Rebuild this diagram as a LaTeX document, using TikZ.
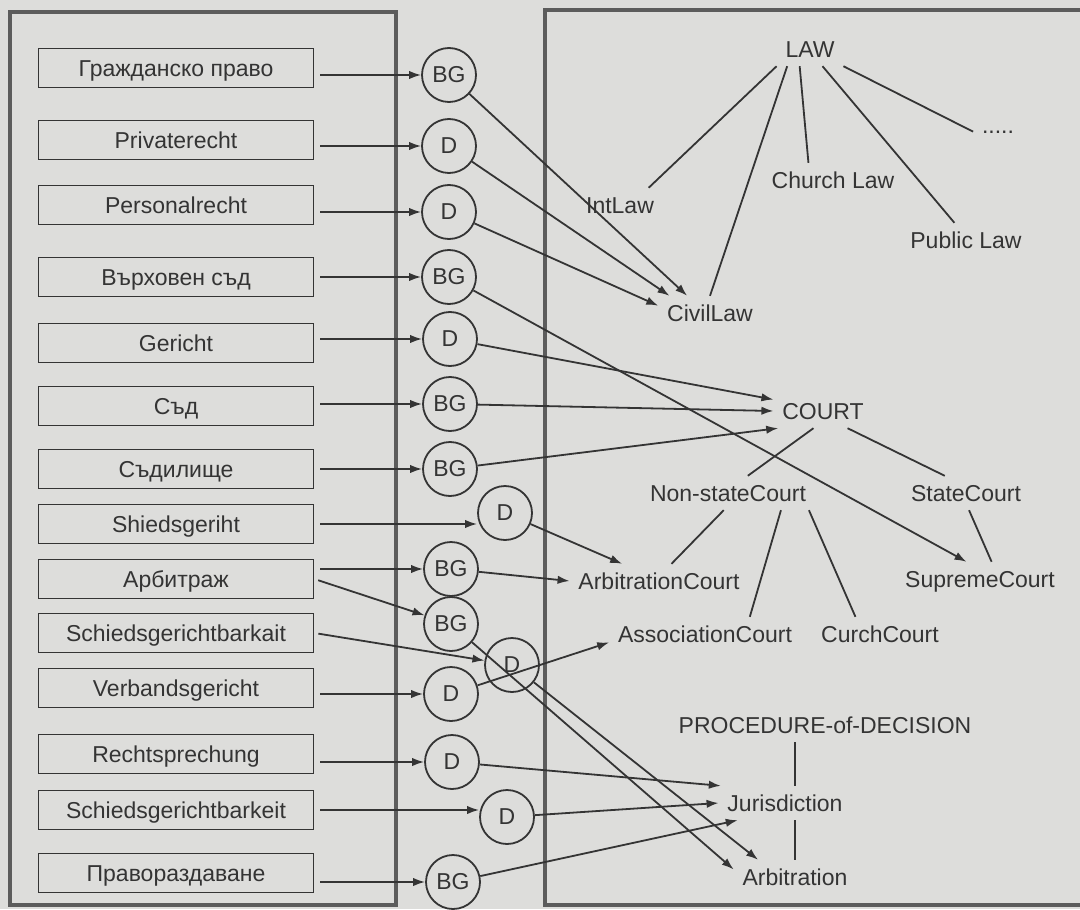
\documentclass[tikz,border=0pt]{standalone}
\usepackage{fontspec}
\setmainfont{Liberation Sans}
\usetikzlibrary{arrows.meta}
\definecolor{paper}{RGB}{221,221,219}
\definecolor{ink}{RGB}{52,52,52}
\definecolor{frame}{RGB}{92,92,92}
\begin{document}
\begin{tikzpicture}[x=.5pt,y=-.5pt,line width=.9pt,ink,>={Latex[length=6pt,width=4.2pt]},
font=\fontsize{11.5}{13}\selectfont,
term/.style={draw,minimum width=137.5pt,minimum height=19.5pt,inner sep=0pt,
  text height=8.3pt,text depth=0pt},
lang/.style={circle,draw,minimum size=27pt,inner sep=0pt},
lbl/.style={inner sep=4pt,text height=8.3pt,text depth=0pt}]
\fill[paper] (0,0) rectangle (1080,909);
\useasboundingbox (0,0) rectangle (1080,909);
\draw[frame,line width=2pt] (10,12) rectangle (396,905);
\draw[frame,line width=2pt] (1085,10) -- (545,10) -- (545,905) -- (1085,905);
% terms
\node[term] (b1) at (176,68) {Гражданско право};
\node[term] (b2) at (176,140) {Privaterecht};
\node[term] (b3) at (176,205) {Personalrecht};
\node[term] (b4) at (176,277) {Върховен съд};
\node[term] (b5) at (176,343) {Gericht};
\node[term] (b6) at (176,406) {Съд};
\node[term] (b7) at (176,469) {Съдилище};
\node[term] (b8) at (176,524) {Shiedsgeriht};
\node[term] (b9) at (176,579) {Арбитраж};
\node[term] (b10) at (176,633) {Schiedsgerichtbarkait};
\node[term] (b11) at (176,688) {Verbandsgericht};
\node[term] (b12) at (176,754) {Rechtsprechung};
\node[term] (b13) at (176,810) {Schiedsgerichtbarkeit};
\node[term] (b14) at (176,873) {Правораздаване};
% languages
\node[lang] (c1) at (449,75) {BG};
\node[lang] (c2) at (449,146) {D};
\node[lang] (c3) at (449,212) {D};
\node[lang] (c4) at (449,277) {BG};
\node[lang] (c5) at (450,339) {D};
\node[lang] (c6) at (450,404) {BG};
\node[lang] (c7) at (450,469) {BG};
\node[lang] (c8) at (505,513) {D};
\node[lang] (c9) at (451,569) {BG};
\node[lang] (c10) at (451,624) {BG};
\node[lang] (c11) at (512,665) {D};
\node[lang] (c12) at (451,694) {D};
\node[lang] (c13) at (452,762) {D};
\node[lang] (c14) at (507,817) {D};
\node[lang] (c15) at (453,882) {BG};
% concepts
\node[lbl] (law) at (810,49) {LAW};
\node[lbl] (il) at (620,205) {IntLaw};
\node[lbl] (ch) at (833,180) {Church Law};
\node[lbl] (pl) at (966,240) {Public Law};
\node[lbl] (dots) at (998,125) {.....};
\node[lbl] (civ) at (710,313) {CivilLaw};
\node[lbl] (co) at (823,411) {COURT};
\node[lbl] (ns) at (728,493) {Non-stateCourt};
\node[lbl] (st) at (966,493) {StateCourt};
\node[lbl] (ac) at (659,581) {ArbitrationCourt};
\node[lbl] (sc) at (980,579) {SupremeCourt};
\node[lbl] (asc) at (705,634) {AssociationCourt};
\node[lbl] (cc) at (880,634) {CurchCourt};
\node[lbl] (pd) at (825,725) {PROCEDURE-of-DECISION};
\node[lbl] (ju) at (785,803) {Jurisdiction};
\node[lbl] (ab) at (795,877) {Arbitration};
% term -> language
\draw[->,shorten <=3pt] (b1.east |- c1) -- (c1);
\draw[->,shorten <=3pt] (b2.east |- c2) -- (c2);
\draw[->,shorten <=3pt] (b3.east |- c3) -- (c3);
\draw[->,shorten <=3pt] (b4.east |- c4) -- (c4);
\draw[->,shorten <=3pt] (b5.east |- c5) -- (c5);
\draw[->,shorten <=3pt] (b6.east |- c6) -- (c6);
\draw[->,shorten <=3pt] (b7.east |- c7) -- (c7);
\draw[->,shorten <=3pt] (b8.east) -- (b8.east -| c8.west);
\draw[->,shorten <=3pt] (b9.east |- c9) -- (c9);
\draw[->,shorten <=2pt] (b9.east) -- (c10);
\draw[->,shorten <=2pt] (b10.east) -- (c11);
\draw[->,shorten <=3pt] (b11.east |- c12) -- (c12);
\draw[->,shorten <=3pt] (b12.east |- c13) -- (c13);
\draw[->,shorten <=3pt] (b13.east) -- (b13.east -| c14.west);
\draw[->,shorten <=3pt] (b14.east |- c15) -- (c15);
% language -> concept
\draw[->] (c1) -- (civ.143);
\draw[->] (c2) -- (civ.157);
\draw[->] (c3) -- (civ.172);
\draw[->] (c4) -- (sc.128);
\draw[->] (c5) -- (co.167);
\draw[->] (c6) -- (co.west);
\draw[->] (c7) -- (co.201);
\draw[->] (c8) -- (ac.155);
\draw[->] (c9) -- (ac.west);
\draw[->] (c10) -- (ab.173);
\draw[->] (c11) -- (ab.155);
\draw[->] (c12) -- (asc.185);
\draw[->] (c13) -- (ju.165);
\draw[->] (c14) -- (ju.west);
\draw[->] (c15) -- (ju.200);
% concept tree
\draw (law.south west) -- (il.31);
\draw (law.217) -- (civ.north);
\draw (law.239) -- (ch.145);
\draw (law.306) -- (pl.124);
\draw (law.south east) -- (dots.195);
\draw (co.241) -- (ns.41);
\draw (co.325) -- (st.141);
\draw (ns.256) -- (ac.54);
\draw (ns.342) -- (asc.21);
\draw (ns.348) -- (cc.145);
\draw (st.280) -- (sc.56);
\draw (pd.south -| ab) -- (ju.north -| ab);
\draw (ju.south -| ab) -- (ab.north);
\end{tikzpicture}
\end{document}
